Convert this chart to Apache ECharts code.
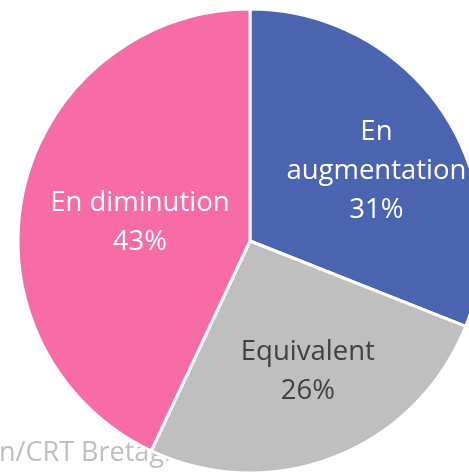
<!DOCTYPE html>
<html>
<head>
<meta charset="utf-8">
<script src="https://cdn.jsdelivr.net/npm/echarts@6/dist/echarts.min.js"></script>
<style>
  html, body { margin: 0; padding: 0; background: #fff; }
  #chart { width: 469px; height: 472px; }
</style>
</head>
<body>
<div id="chart"></div>
<script>
var categories = ['En augmentation', 'Equivalent', 'En diminution'];
var shares = [31, 26, 43];
var sourceText = 'n/CRT Bretagne';

var colors = ['#4a64b0', '#bfbfbf', '#f76ba6'];
var labelColors = ['#ffffff', '#404040', '#ffffff'];
// nudges to match where the labels sit in the original
var labelShift = [[28, -3], [14, 20], [6, 8]];

var chart = echarts.init(document.getElementById('chart'));
var option = {
  animation: false,
  graphic: [
    {
      type: 'text',
      left: -1,
      top: 440,
      z: 0,
      style: {
        text: sourceText,
        fill: '#bfbfbf',
        font: '27px "Open Sans"'
      }
    }
  ],
  series: [
    {
      type: 'pie',
      z: 2,
      center: [250, 241],
      radius: 232,
      startAngle: 90,
      clockwise: true,
      itemStyle: {
        borderColor: '#ffffff',
        borderWidth: 3
      },
      label: {
        position: 'inside',
        fontFamily: 'Open Sans',
        fontSize: 27.5,
        lineHeight: 39,
        align: 'center',
        formatter: function (p) {
          var name = p.name === 'En augmentation' ? 'En\naugmentation' : p.name;
          return name + '\n' + p.value + '%';
        }
      },
      labelLine: { show: false },
      labelLayout: function (p) {
        var s = labelShift[p.dataIndex];
        return { dx: s[0], dy: s[1] };
      },
      data: categories.map(function (name, i) {
        return {
          name: name,
          value: shares[i],
          itemStyle: { color: colors[i] },
          label: { color: labelColors[i] }
        };
      })
    }
  ]
};
chart.setOption(option);
</script>
</body>
</html>
